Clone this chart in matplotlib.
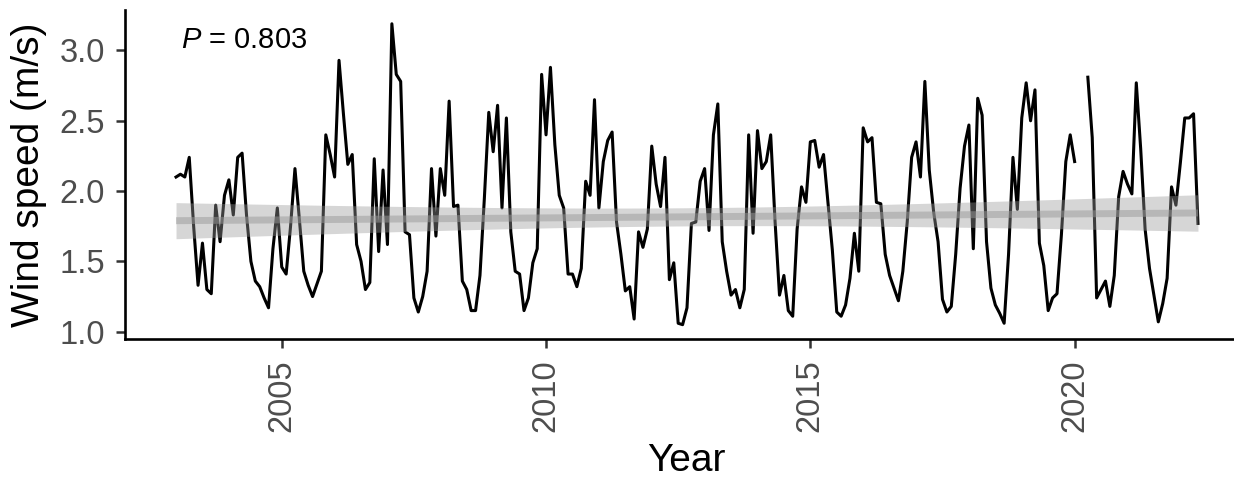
import numpy as np
import matplotlib

matplotlib.use("Agg")
import matplotlib.pyplot as plt

# Monthly mean wind speed (m/s), one list per year starting in January.
# Feb/Mar 2020 have no record.
WIND_2003 = [2.10, 2.12, 2.10, 2.24, 1.75, 1.33, 1.63, 1.30, 1.27, 1.90, 1.64, 1.97]
WIND_2004 = [2.08, 1.83, 2.24, 2.27, 1.83, 1.50, 1.36, 1.32, 1.24, 1.17, 1.59, 1.88]
WIND_2005 = [1.46, 1.41, 1.75, 2.16, 1.80, 1.43, 1.33, 1.25, 1.34, 1.43, 2.40, 2.26]
WIND_2006 = [2.10, 2.93, 2.55, 2.19, 2.26, 1.62, 1.50, 1.30, 1.35, 2.23, 1.57, 2.15]
WIND_2007 = [1.62, 3.19, 2.83, 2.78, 1.71, 1.69, 1.24, 1.14, 1.25, 1.43, 2.16, 1.68]
WIND_2008 = [2.16, 1.97, 2.64, 1.89, 1.90, 1.36, 1.30, 1.15, 1.15, 1.40, 1.95, 2.56]
WIND_2009 = [2.28, 2.61, 1.88, 2.52, 1.71, 1.43, 1.41, 1.15, 1.24, 1.49, 1.59, 2.83]
WIND_2010 = [2.40, 2.88, 2.33, 1.97, 1.88, 1.41, 1.41, 1.32, 1.45, 2.07, 1.97, 2.65]
WIND_2011 = [1.88, 2.21, 2.36, 2.42, 1.78, 1.55, 1.29, 1.32, 1.09, 1.71, 1.60, 1.73]
WIND_2012 = [2.32, 2.05, 1.89, 2.24, 1.37, 1.49, 1.06, 1.05, 1.17, 1.77, 1.78, 2.07]
WIND_2013 = [2.16, 1.72, 2.40, 2.62, 1.64, 1.43, 1.26, 1.30, 1.17, 1.30, 2.40, 1.70]
WIND_2014 = [2.43, 2.16, 2.21, 2.40, 1.78, 1.26, 1.40, 1.15, 1.11, 1.73, 2.03, 1.92]
WIND_2015 = [2.35, 2.36, 2.17, 2.26, 1.92, 1.58, 1.14, 1.11, 1.19, 1.38, 1.70, 1.43]
WIND_2016 = [2.45, 2.35, 2.38, 1.92, 1.91, 1.55, 1.40, 1.31, 1.22, 1.43, 1.78, 2.24]
WIND_2017 = [2.35, 2.10, 2.78, 2.15, 1.85, 1.64, 1.23, 1.14, 1.18, 1.55, 2.02, 2.32]
WIND_2018 = [2.47, 1.59, 2.66, 2.54, 1.64, 1.31, 1.19, 1.13, 1.06, 1.55, 2.24, 1.87]
WIND_2019 = [2.52, 2.77, 2.50, 2.72, 1.63, 1.47, 1.15, 1.24, 1.27, 1.69, 2.21, 2.40]
WIND_2020 = [2.21, np.nan, np.nan, 2.81, 2.38, 1.24, 1.30, 1.36, 1.18, 1.40, 1.96, 2.14]
WIND_2021 = [2.05, 1.98, 2.77, 2.30, 1.73, 1.45, 1.26, 1.07, 1.20, 1.38, 2.03, 1.90]
WIND_2022 = [2.20, 2.52, 2.52, 2.55, 1.77]

START_YEAR = 2003
X_TICKS = [2005, 2010, 2015, 2020]
Y_TICKS = [1.0, 1.5, 2.0, 2.5, 3.0]
P_LABEL = "$P$ = 0.803"

TICK_GREY = "#4D4D4D"
RIBBON_GREY = "#999999"

plt.rcParams["font.family"] = ["Liberation Sans", "DejaVu Sans"]
plt.rcParams["mathtext.fontset"] = "custom"
plt.rcParams["mathtext.rm"] = "Liberation Sans"
plt.rcParams["mathtext.it"] = "Liberation Sans:italic"

wind = np.array(
    WIND_2003 + WIND_2004 + WIND_2005 + WIND_2006 + WIND_2007 + WIND_2008 + WIND_2009
    + WIND_2010 + WIND_2011 + WIND_2012 + WIND_2013 + WIND_2014 + WIND_2015 + WIND_2016
    + WIND_2017 + WIND_2018 + WIND_2019 + WIND_2020 + WIND_2021 + WIND_2022,
    dtype=float,
)
years = START_YEAR + np.arange(len(wind)) / 12.0

# linear trend with 95% confidence band
ok = ~np.isnan(wind)
xs, ys = years[ok], wind[ok]
n = len(xs)
slope, intercept = np.polyfit(xs, ys, 1)
resid = ys - (slope * xs + intercept)
s = np.sqrt(np.sum(resid ** 2) / (n - 2))
xbar = xs.mean()
sxx = np.sum((xs - xbar) ** 2)
xg = np.linspace(xs.min(), xs.max(), 120)
fit = slope * xg + intercept
se = s * np.sqrt(1.0 / n + (xg - xbar) ** 2 / sxx)
t_crit = 1.97

fig = plt.figure(figsize=(12.34, 4.78), dpi=100)
ax = fig.add_axes([0.1011, 0.2902, 0.9111, 0.6889])

ax.plot(years, wind, color="black", linewidth=2.2, zorder=2)
ax.fill_between(xg, fit - t_crit * se, fit + t_crit * se, color=RIBBON_GREY, alpha=0.4, linewidth=0, zorder=3)
ax.plot(xg, fit, color=RIBBON_GREY, alpha=0.5, linewidth=5.0, zorder=4, solid_capstyle="butt")

ax.set_xlim(2002.03, 2023.30)
ax.set_ylim(0.946, 3.288)
ax.set_xticks(X_TICKS)
ax.set_yticks(Y_TICKS)
ax.set_yticklabels([f"{v:.1f}" for v in Y_TICKS])
ax.tick_params(axis="x", labelrotation=90)
ax.tick_params(labelsize=23.5, labelcolor=TICK_GREY, color="#333333", length=6.2, width=1.8, pad=8)

for side in ("top", "right"):
    ax.spines[side].set_visible(False)
for side in ("left", "bottom"):
    ax.spines[side].set_linewidth(1.9)
    ax.spines[side].set_color("black")

ax.set_xlabel("Year", fontsize=28, color="black")
ax.set_ylabel("Wind speed (m/s)", fontsize=28, color="black")
ax.xaxis.set_label_coords(0.5, -0.316)
ax.yaxis.set_label_coords(-0.069, 0.5)

ax.text(2003.09, 3.016, P_LABEL, fontsize=21, color="black", ha="left", va="baseline")

fig.savefig("out.png", dpi=100, facecolor="white")
